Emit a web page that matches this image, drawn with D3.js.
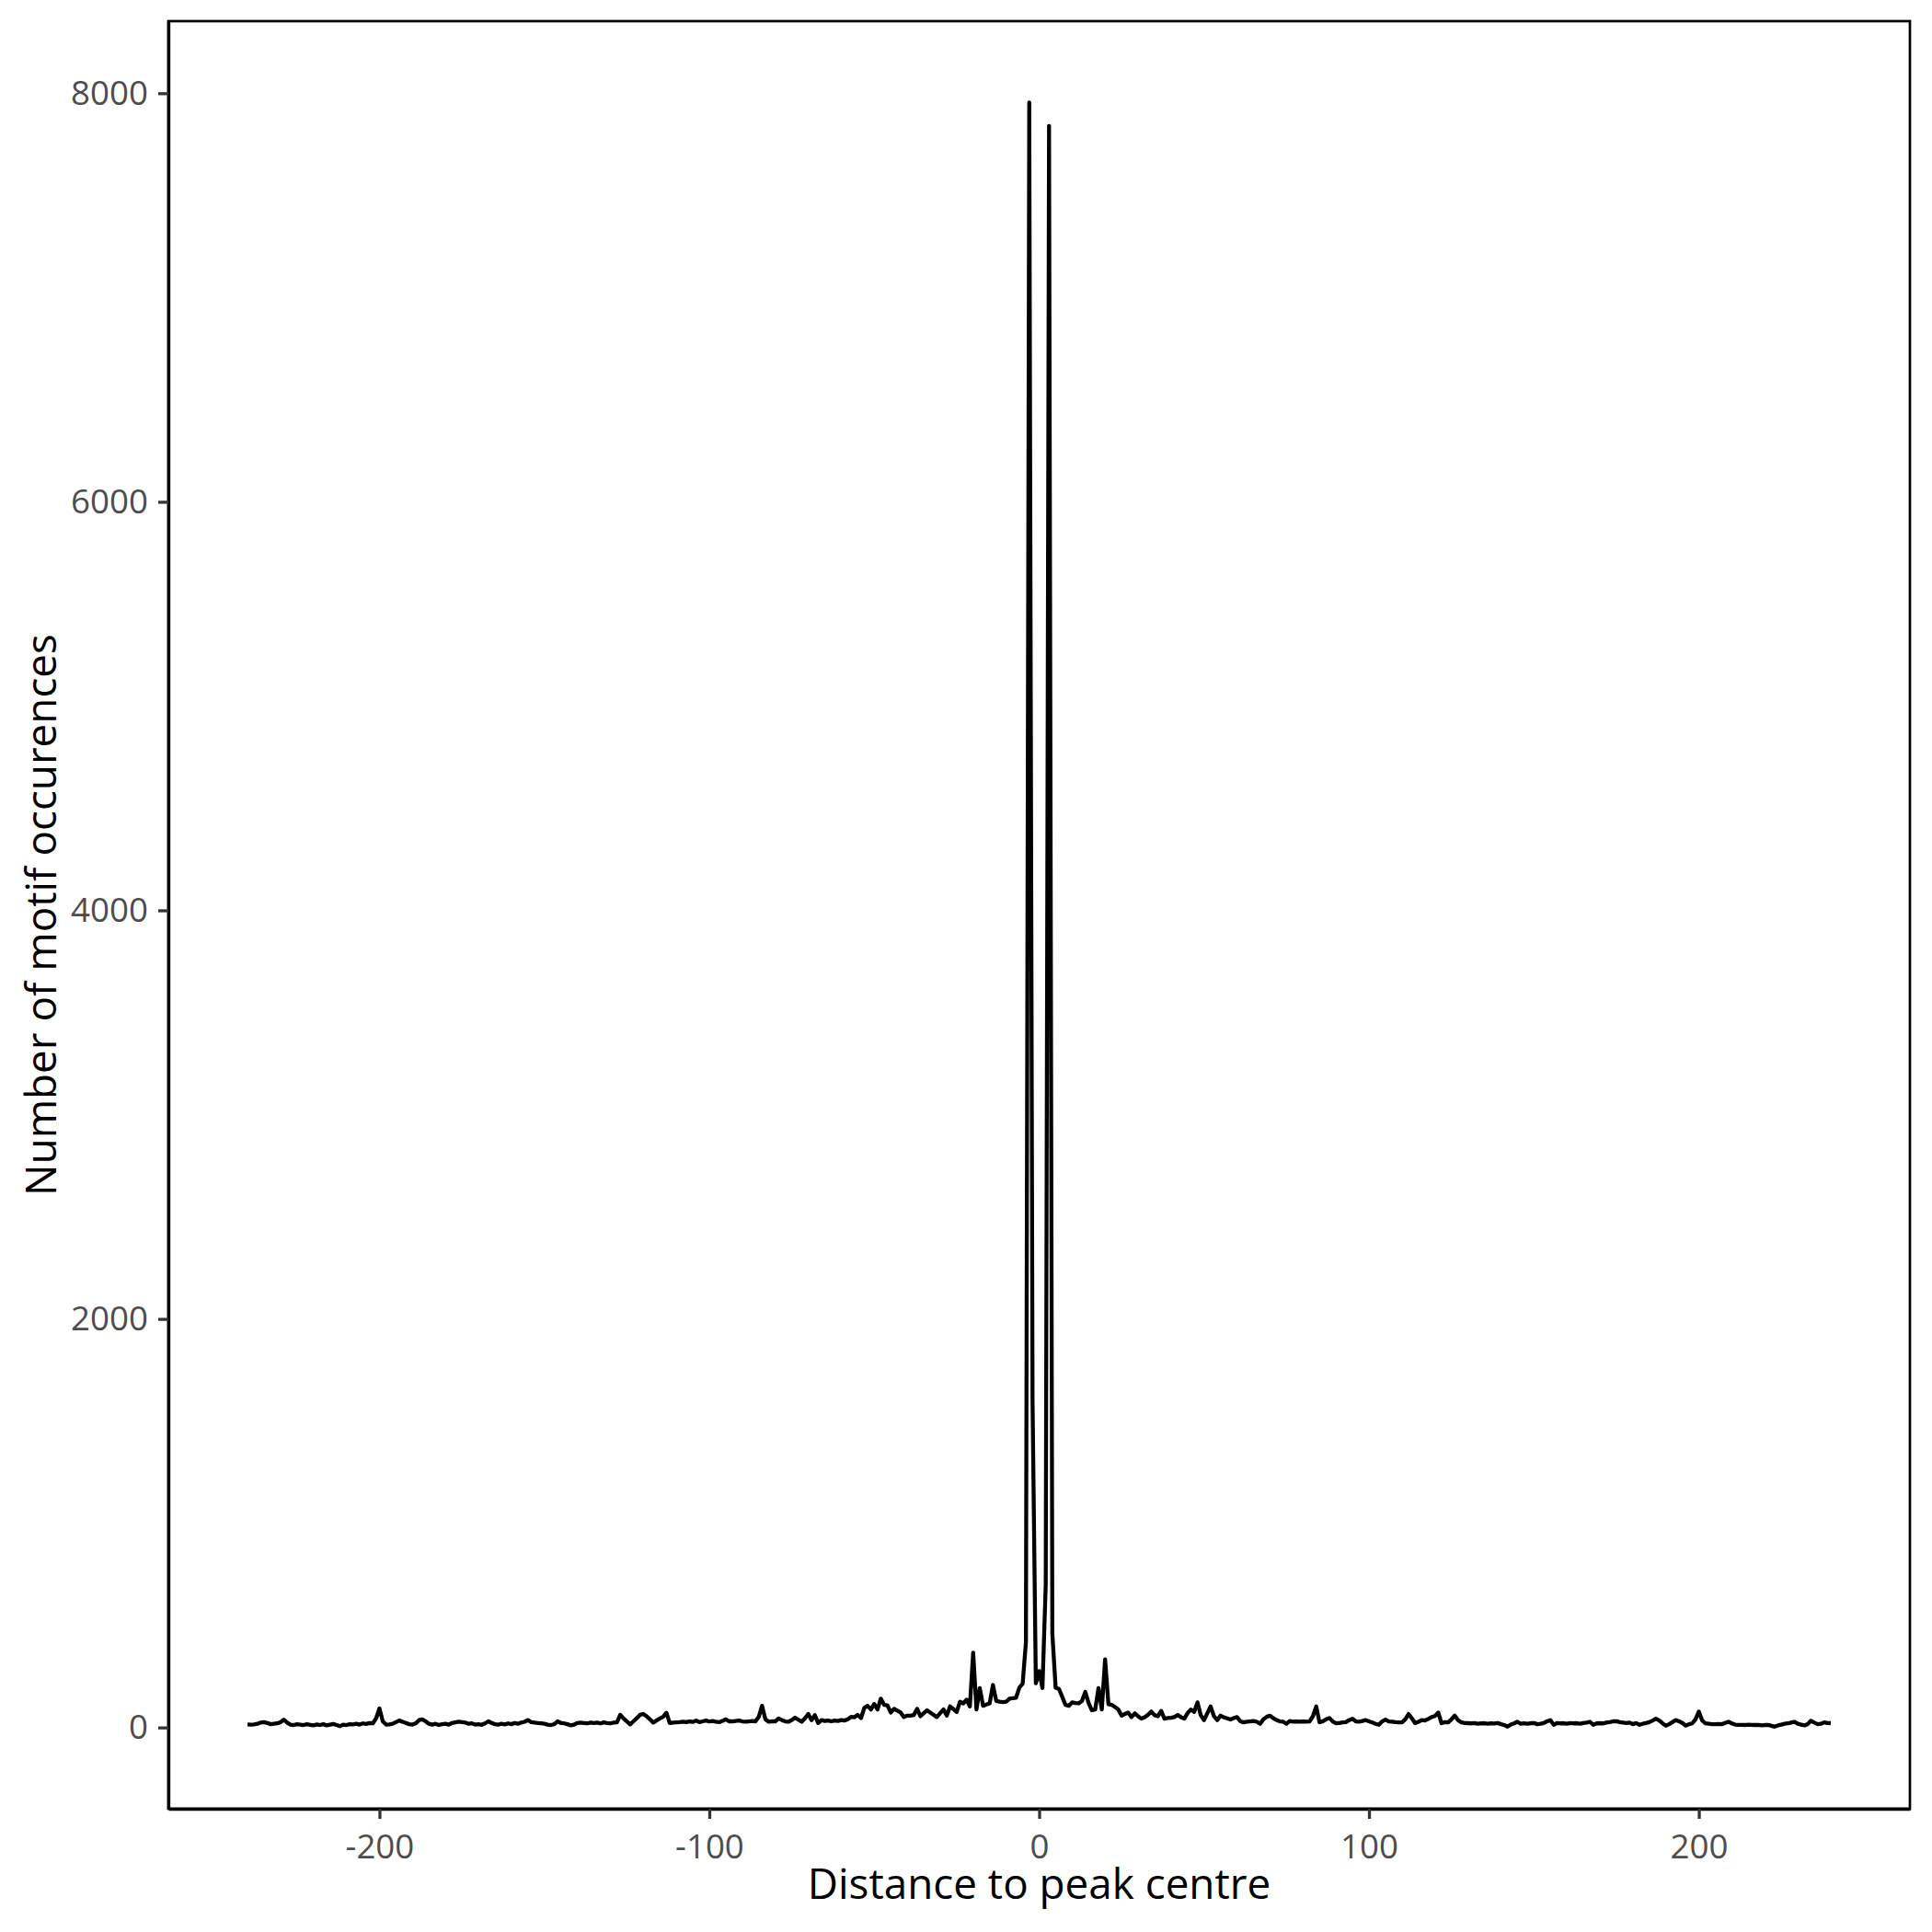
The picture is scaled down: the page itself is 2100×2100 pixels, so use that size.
<!DOCTYPE html>
<meta charset="utf-8">
<title>Motif occurences around peak centre</title>
<style>
body {
  margin: 0;
  background: #fff;
}
text {
  font-family: "Open Sans", "Noto Sans", sans-serif;
}
.tick text {
  fill: #4d4d4d;
  font-size: 36.7px;
}
.tick line {
  stroke: #333;
  stroke-width: 3.3px;
}
.axis-title {
  fill: #000;
  font-size: 45.8px;
}
</style>
<body>
<script src="https://d3js.org/d3.v7.min.js"></script>
<script>
// counts per position
// flank left: -240 .. -11
var countsLeft = [
  15, 14, 15, 18, 24, 26, 22, 16, 18, 20,
  26, 38, 24, 14, 12, 16, 14, 12, 16, 13,
  10, 15, 12, 16, 10, 14, 17, 12, 6, 14,
  12, 16, 15, 18, 14, 20, 17, 22, 20, 45,
  93, 30, 14, 15, 18, 26, 34, 28, 22, 16,
  14, 20, 36, 40, 30, 18, 14, 18, 12, 16,
  18, 14, 22, 25, 28, 26, 24, 18, 20, 14,
  16, 13, 20, 30, 22, 16, 14, 18, 15, 20,
  16, 22, 18, 24, 28, 36, 26, 24, 22, 20,
  18, 14, 12, 16, 30, 22, 20, 16, 10, 14,
  22, 24, 22, 20, 24, 22, 24, 20, 25, 22,
  20, 24, 25, 62, 44, 30, 15, 30, 45, 62,
  66, 55, 40, 24, 34, 44, 52, 72, 22, 24,
  25, 26, 28, 26, 30, 27, 34, 26, 30, 34,
  29, 32, 28, 26, 32, 40, 30, 30, 32, 34,
  30, 28, 30, 32, 30, 52, 106, 40, 28, 30,
  30, 44, 36, 30, 28, 36, 48, 38, 28, 45,
  66, 36, 60, 22, 36, 32, 34, 30, 34, 32,
  36, 34, 40, 52, 50, 62, 46, 96, 106, 88,
  115, 88, 141, 111, 108, 73, 91, 82, 73, 51,
  58, 58, 61, 91, 55, 70, 84, 73, 62, 51,
  70, 88, 58, 103, 90, 76, 126, 118, 136, 103,
  366, 88, 193, 106, 112, 118, 208, 130, 126, 124
];
// core: -10 .. 10
var countsCore = [
  126, 141, 143, 146, 195, 214, 418, 7955, 1600, 216,
  276,
  193, 700, 7840, 460, 195, 189, 150, 110, 106, 123
];
// flank right: 11 .. 240
var countsRight = [
  120, 118, 130, 174, 120, 84, 88, 193, 88, 333,
  114, 111, 100, 88, 58, 66, 73, 51, 69, 55,
  43, 50, 62, 78, 60, 55, 81, 43, 46, 48,
  51, 61, 50, 43, 70, 88, 76, 123, 60, 36,
  70, 103, 55, 36, 58, 50, 45, 39, 46, 51,
  30, 25, 28, 30, 32, 28, 18, 40, 52, 58,
  45, 36, 30, 28, 18, 32, 28, 30, 28, 30,
  28, 30, 55, 103, 25, 30, 40, 46, 30, 21,
  22, 25, 26, 36, 43, 30, 28, 32, 36, 30,
  24, 18, 13, 30, 39, 30, 28, 26, 25, 25,
  40, 66, 45, 21, 28, 36, 34, 42, 51, 56,
  73, 21, 26, 25, 40, 58, 36, 25, 22, 21,
  20, 22, 18, 20, 21, 18, 20, 19, 22, 16,
  12, 4, 14, 20, 28, 18, 20, 18, 21, 22,
  16, 18, 22, 30, 36, 13, 22, 20, 21, 18,
  22, 20, 21, 18, 22, 24, 28, 13, 20, 21,
  20, 24, 26, 30, 31, 26, 24, 22, 24, 16,
  22, 13, 18, 22, 26, 34, 43, 34, 20, 9,
  16, 26, 36, 30, 22, 9, 16, 20, 40, 78,
  35, 20, 18, 16, 16, 17, 16, 22, 28, 20,
  14, 13, 13, 12, 14, 13, 12, 13, 10, 12,
  13, 8, 4, 10, 14, 18, 20, 24, 28, 18,
  14, 10, 16, 33, 24, 16, 18, 25, 22, 21
];
var positions = d3.range(-240, 241);
var xTicks = [-200, -100, 0, 100, 200];
var yTicks = [0, 2000, 4000, 6000, 8000];

var counts = countsLeft.concat(countsCore, countsRight);
var data = positions.map(function(p, i) { return {pos: p, n: counts[i]}; });

var w = 2100,
    h = 2100,
    panelL = 183,
    panelR = 2076,
    panelT = 23,
    panelB = 1966;

var svg = d3.select("body").append("svg")
    .attr("width", w)
    .attr("height", h);

svg.append("rect")
    .attr("width", w)
    .attr("height", h)
    .attr("fill", "#fff");

// ggplot style 5% expansion on both axes
var xExt = d3.extent(positions),
    yMax = d3.max(counts),
    xPad = (xExt[1] - xExt[0]) * 0.05,
    yPad = yMax * 0.05;

var x = d3.scaleLinear()
    .domain([xExt[0] - xPad, xExt[1] + xPad])
    .range([panelL, panelR]);
var y = d3.scaleLinear()
    .domain([-yPad, yMax + yPad])
    .range([panelB, panelT]);

// panel border
svg.append("rect")
    .attr("x", panelL)
    .attr("y", panelT)
    .attr("width", panelR - panelL)
    .attr("height", panelB - panelT)
    .attr("fill", "none")
    .attr("stroke", "#000")
    .attr("stroke-width", 2.7);

var line = d3.line()
    .x(function(d) { return x(d.pos); })
    .y(function(d) { return y(d.n); });

svg.append("path")
    .datum(data)
    .attr("d", line)
    .attr("fill", "none")
    .attr("stroke", "#000")
    .attr("stroke-width", 4.3)
    .attr("stroke-linejoin", "round");

var xAxis = svg.append("g")
    .attr("transform", "translate(0," + panelB + ")")
    .call(d3.axisBottom(x).tickValues(xTicks).tickSize(11).tickSizeOuter(0).tickPadding(10).tickFormat(String));
var yAxis = svg.append("g")
    .attr("transform", "translate(" + panelL + ",0)")
    .call(d3.axisLeft(y).tickValues(yTicks).tickSize(11).tickSizeOuter(0).tickPadding(11).tickFormat(String));

[xAxis, yAxis].forEach(function(g) {
  g.attr("font-family", null).attr("font-size", null);
  g.select(".domain")
      .attr("stroke", "#000")
      .attr("stroke-width", 3.3);
});
xAxis.selectAll(".tick text").attr("dy", "0.9em");

svg.append("text")
    .attr("class", "axis-title")
    .attr("x", (panelL + panelR) / 2)
    .attr("y", 2064)
    .attr("text-anchor", "middle")
    .text("Distance to peak centre");

svg.append("text")
    .attr("class", "axis-title")
    .attr("transform", "translate(61," + (panelT + panelB) / 2 + ")rotate(-90)")
    .attr("text-anchor", "middle")
    .text("Number of motif occurences");
</script>
